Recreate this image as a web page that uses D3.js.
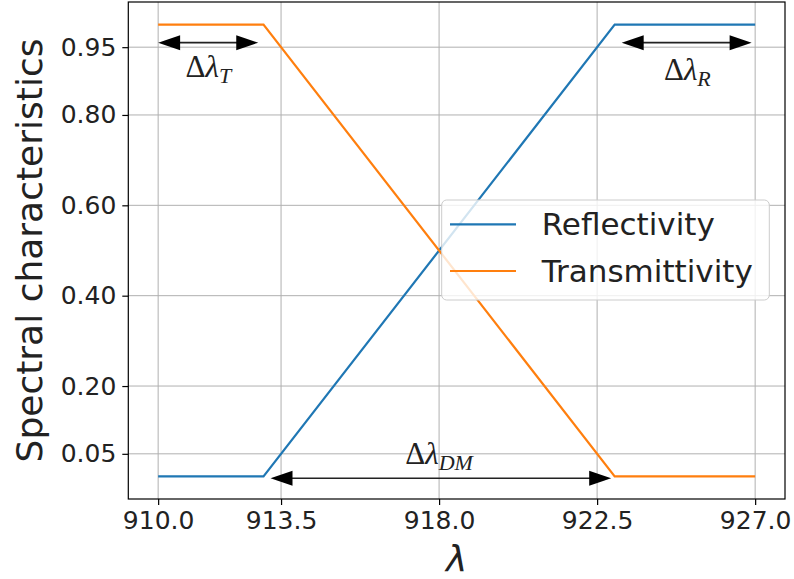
<!DOCTYPE html>
<html>
<head>
<meta charset="utf-8">
<script src="https://cdn.jsdelivr.net/npm/d3@7"></script>
<style>
  html, body { margin: 0; padding: 0; background: #fff; }
  svg { display: block; }
</style>
</head>
<body>
<svg id="chart" width="794" height="579"></svg>
<script>
// ---- data ----
const wavelength = [910, 913, 923, 927];
const reflectivity = [0, 0, 1, 1];
const transmittivity = [1, 1, 0, 0];
const seriesNames = ["Reflectivity", "Transmittivity"];
const xTickValues = [910.0, 913.5, 918.0, 922.5, 927.0];
const yTickValues = [0.05, 0.20, 0.40, 0.60, 0.80, 0.95];
// annotation arrows: x from, x to, y; label centre x, baseline y; subscript
const arrowFrom = [910.0, 923.2, 913.2];
const arrowTo = [912.85, 926.9, 922.9];
const arrowY = [0.96, 0.96, -0.004];
const labelX = [911.43, 925.07, 918.0];
const labelY = [0.884, 0.878, 0.027];
const labelSub = ["T", "R", "DM"];

// ---- layout ----
const plotL = 128.3, plotR = 785, plotT = 2, plotB = 499;
const svg = d3.select("#chart");

const x = d3.scaleLinear().domain([909.15, 927.85]).range([plotL, plotR]);
const y = d3.scaleLinear().domain([-0.05, 1.05]).range([plotB, plotT]);

const colors = ["#1f77b4", "#ff7f0e"];

// grid
const grid = svg.append("g");
grid.selectAll("line.vx").data(xTickValues).join("line").attr("class", "vx")
  .attr("x1", d => x(d)).attr("x2", d => x(d)).attr("y1", plotT).attr("y2", plotB)
  .attr("stroke", "#b0b0b0").attr("stroke-width", 1);
grid.selectAll("line.hy").data(yTickValues).join("line").attr("class", "hy")
  .attr("y1", d => y(d)).attr("y2", d => y(d)).attr("x1", plotL).attr("x2", plotR)
  .attr("stroke", "#b0b0b0").attr("stroke-width", 1);

// lines
const line = d3.line().x(d => x(d[0])).y(d => y(d[1]));
[reflectivity, transmittivity].forEach((vals, i) => {
  svg.append("path")
    .datum(wavelength.map((w, j) => [w, vals[j]]))
    .attr("d", line)
    .attr("fill", "none")
    .attr("stroke", colors[i])
    .attr("stroke-width", 2.2);
});

// arrows
const arrowsG = svg.append("g");
const headL = 22, headHW = 7.5;
arrowFrom.forEach((xf, i) => {
  const x1 = x(xf), x2 = x(arrowTo[i]), yy = y(arrowY[i]);
  arrowsG.append("line")
    .attr("x1", x1 + headL - 2).attr("x2", x2 - headL + 2)
    .attr("y1", yy).attr("y2", yy)
    .attr("stroke", "#222").attr("stroke-width", 1.6);
  arrowsG.append("path")
    .attr("d", `M${x1},${yy} L${x1 + headL},${yy - headHW} L${x1 + headL},${yy + headHW} Z`)
    .attr("fill", "#000");
  arrowsG.append("path")
    .attr("d", `M${x2},${yy} L${x2 - headL},${yy - headHW} L${x2 - headL},${yy + headHW} Z`)
    .attr("fill", "#000");
  const t = arrowsG.append("text")
    .attr("x", x(labelX[i])).attr("y", y(labelY[i]))
    .attr("text-anchor", "middle")
    .attr("font-family", "'Liberation Serif', 'DejaVu Serif', serif")
    .attr("font-size", 31)
    .attr("fill", "#222");
  t.append("tspan").text("Δ");
  t.append("tspan").attr("font-style", "italic").text("λ");
  t.append("tspan").attr("font-style", "italic").attr("font-size", 22).attr("dy", 6).text(labelSub[i]);
});

// axes spines
svg.append("rect")
  .attr("x", plotL).attr("y", plotT).attr("width", plotR - plotL).attr("height", plotB - plotT)
  .attr("fill", "none").attr("stroke", "#000").attr("stroke-width", 1.2);

// x axis
const xAxis = d3.axisBottom(x).tickValues(xTickValues).tickFormat(d3.format(".1f"))
  .tickSize(6).tickPadding(6);
const gx = svg.append("g").attr("transform", `translate(0,${plotB})`).call(xAxis);
gx.select(".domain").remove();
gx.selectAll(".tick line").attr("stroke", "#000").attr("stroke-width", 1.2);
gx.selectAll(".tick text").attr("font-family", "'DejaVu Sans', sans-serif")
  .attr("font-size", 25).attr("fill", "#222");

// y axis
const yAxis = d3.axisLeft(y).tickValues(yTickValues).tickFormat(d3.format(".2f"))
  .tickSize(6).tickPadding(6);
const gy = svg.append("g").attr("transform", `translate(${plotL},0)`).call(yAxis);
gy.select(".domain").remove();
gy.selectAll(".tick line").attr("stroke", "#000").attr("stroke-width", 1.2);
gy.selectAll(".tick text").attr("font-family", "'DejaVu Sans', sans-serif")
  .attr("font-size", 25).attr("fill", "#222");

// axis labels
svg.append("text")
  .attr("transform", `translate(42,${(plotT + plotB) / 2}) rotate(-90)`)
  .attr("text-anchor", "middle")
  .attr("font-family", "'DejaVu Sans', sans-serif")
  .attr("font-size", 36).attr("fill", "#222")
  .text("Spectral characteristics");
svg.append("text")
  .attr("x", (plotL + plotR) / 2).attr("y", 571)
  .attr("text-anchor", "middle")
  .attr("font-family", "'DejaVu Sans', sans-serif")
  .attr("font-style", "italic")
  .attr("font-size", 36).attr("fill", "#222")
  .text("λ");

// legend
const lg = svg.append("g");
lg.append("rect")
  .attr("x", 441.7).attr("y", 200).attr("width", 327.6).attr("height", 100)
  .attr("rx", 5).attr("ry", 5)
  .attr("fill", "#fff").attr("fill-opacity", 0.8)
  .attr("stroke", "#cccccc").attr("stroke-width", 1);
seriesNames.forEach((name, i) => {
  const yy = 224.3 + i * 46.7;
  lg.append("line").attr("x1", 450).attr("x2", 516).attr("y1", yy).attr("y2", yy)
    .attr("stroke", colors[i]).attr("stroke-width", 2.2);
  lg.append("text").attr("x", 541.7).attr("y", yy + 11)
    .attr("font-family", "'DejaVu Sans', sans-serif")
    .attr("font-size", 31).attr("fill", "#222")
    .text(name);
});
</script>
</body>
</html>
